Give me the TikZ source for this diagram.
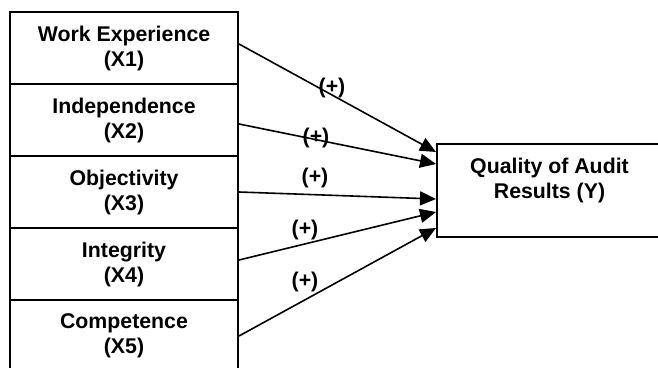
\documentclass[tikz,border=0pt]{standalone}
\usepackage{fontspec}
\setmainfont{Liberation Sans}
\usetikzlibrary{arrows.meta}
\tikzstyle{factor}=[rectangle, draw, line width=2pt, minimum width=228pt, minimum height=72pt, inner sep=0pt, align=center, font=\bfseries\fontsize{21.3}{25}\selectfont]
\tikzstyle{result}=[rectangle, draw, line width=2pt, minimum width=225pt, minimum height=93pt]
\tikzstyle{sign}=[inner sep=0pt, font=\bfseries\fontsize{21.3}{25}\selectfont]
\tikzstyle{effect}=[draw, line width=1.6pt, -{Triangle[length=16pt,width=14pt]}]
\newcommand{\factor}{\node[factor]}
\newcommand{\sign}{\node[sign]}

\begin{document}
\begin{tikzpicture}[x=1pt,y=-1pt]
            \useasboundingbox (0,0) rectangle (658,367);
            \factor (x1) at (124,48) {Work Experience\\(X1)};
            \factor (x2) at (124,120) {Independence\\(X2)};
            \factor (x3) at (124,192) {Objectivity\\(X3)};
            \factor (x4) at (124,264) {Integrity\\(X4)};
            \factor (x5) at (124,336) {Competence\\(X5)};
            \node[result, label={[sign, align=center, anchor=north, yshift=-15pt]north:{Quality of Audit\\Results (Y)}}] (y) at (549.5,190.5) {};
            \path[every edge/.style={effect}]
                ([yshift=4pt]x1.east) edge ([yshift=38.5pt]y.west)
                ([yshift=-4pt]x2.east) edge ([yshift=26.5pt]y.west)
                (x3.east) edge ([yshift=-8.5pt]y.west)
                ([yshift=4pt]x4.east) edge ([yshift=-21.5pt]y.west)
                (x5.east) edge ([yshift=-37.5pt]y.west)
            ;
            \sign (s1) at (332,88) {(+)};
            \sign (s2) at (316,138) {(+)};
            \sign (s3) at (315,178) {(+)};
            \sign (s4) at (305,230) {(+)};
            \sign (s5) at (305,282) {(+)};
        \end{tikzpicture}
\end{document}
